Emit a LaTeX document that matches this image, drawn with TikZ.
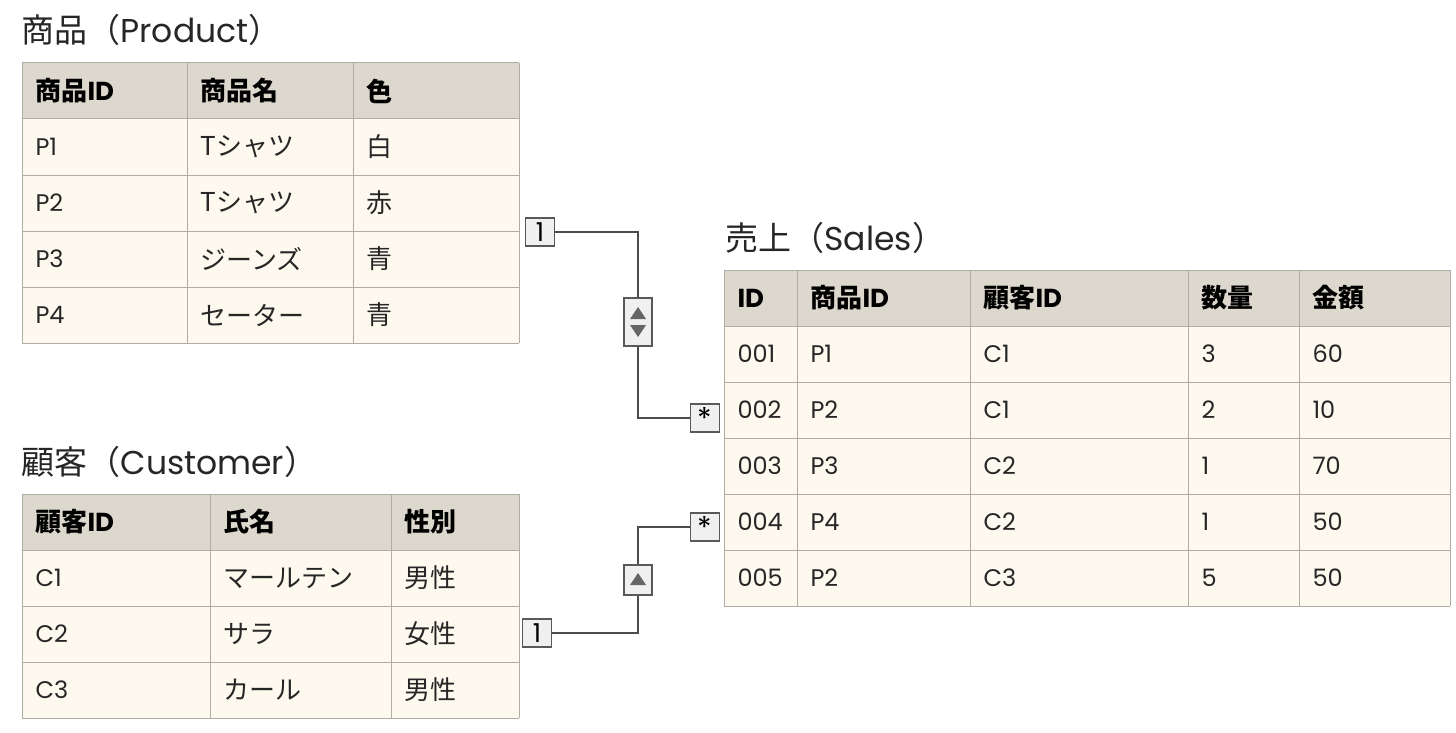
\documentclass[tikz,border=0pt]{standalone}
\usepackage{fontspec}
\usetikzlibrary{calc}
\setmainfont{Poppins}
\newfontfamily\jpf{Noto Sans CJK JP}
\newcommand{\J}[1]{{\jpf\fontsize{26}{28}\selectfont #1}}
\begin{document}
\begin{tikzpicture}[x=1pt,y=-1pt,
  txt/.style={anchor=west,font=\fontsize{24}{26}\selectfont,text=black!85},
  htxt/.style={anchor=west,font=\fontsize{26}{28}\selectfont\bfseries,text=black},
  ttl/.style={anchor=west,font=\fontsize{33}{36}\selectfont,text=black!85},
  mk/.style={draw=gray!70!black,fill=gray!12,line width=1.2pt,minimum width=29pt,minimum height=24pt,inner sep=0pt,font=\fontsize{22}{22}\selectfont},
  ln/.style={draw=black!70,line width=2.2pt},
  tri/.style={fill=black!60,draw=none}]
\definecolor{hdrc}{HTML}{DDD8CE}
\definecolor{bodc}{HTML}{FDF9EE}
\definecolor{gridc}{HTML}{B0ACA6}
\useasboundingbox (0,0) rectangle (1456,733);
% ---------- Product
\node[ttl] (tp) at (18,30) {{\jpf 商品（}Product{\jpf ）}};
\foreach \xa/\xb in {22/187,187/353,353/519}{
  \fill[hdrc] (\xa,63) rectangle (\xb,119);
  \fill[bodc] (\xa,119) rectangle (\xb,343);}
\foreach \y in {63,119,175,231,287,343} \draw[gridc,line width=1pt] (22,\y)--(519,\y);
\foreach \x in {22,187,353,519} \draw[gridc,line width=1pt] (\x,63)--(\x,343);
\node[htxt] (p00) at (32,91) {{\jpf 商品}ID};
\node[htxt] (p01) at (197,91) {{\jpf 商品名}};
\node[htxt] (p02) at (363,91) {{\jpf 色}};
\foreach \r/\a/\b/\c in {1/P1/Tシャツ/白,2/P2/Tシャツ/赤,3/P3/ジーンズ/青,4/P4/セーター/青}{
  \node[txt] (pa\r) at (32,91+56*\r) {\a};
  \node[txt] (pb\r) at (197,91+56*\r) {\J{\b}};
  \node[txt] (pc\r) at (363,91+56*\r) {\J{\c}};}
% ---------- Customer
\node[ttl] (tc) at (18,462) {{\jpf 顧客（}Customer{\jpf ）}};
\foreach \xa/\xb in {22/210,210/391,391/519}{
  \fill[hdrc] (\xa,494) rectangle (\xb,550);
  \fill[bodc] (\xa,550) rectangle (\xb,718);}
\foreach \y in {494,550,606,662,718} \draw[gridc,line width=1pt] (22,\y)--(519,\y);
\foreach \x in {22,210,391,519} \draw[gridc,line width=1pt] (\x,494)--(\x,718);
\node[htxt] (c00) at (32,522) {{\jpf 顧客}ID};
\node[htxt] (c01) at (220,522) {{\jpf 氏名}};
\node[htxt] (c02) at (401,522) {{\jpf 性別}};
\foreach \r/\a/\b/\c in {1/C1/マールテン/男性,2/C2/サラ/女性,3/C3/カール/男性}{
  \node[txt] (ca\r) at (32,522+56*\r) {\a};
  \node[txt] (cb\r) at (220,522+56*\r) {\J{\b}};
  \node[txt] (cc\r) at (401,522+56*\r) {\J{\c}};}
% ---------- Sales
\node[ttl] (ts) at (722,238) {{\jpf 売上（}Sales{\jpf ）}};
\foreach \xa/\xb in {724/797,797/970,970/1188,1188/1299,1299/1450}{
  \fill[hdrc] (\xa,270) rectangle (\xb,326);
  \fill[bodc] (\xa,326) rectangle (\xb,606);}
\foreach \y in {270,326,382,438,494,550,606} \draw[gridc,line width=1pt] (724,\y)--(1450,\y);
\foreach \x in {724,797,970,1188,1299,1450} \draw[gridc,line width=1pt] (\x,270)--(\x,606);
\node[htxt] (s00) at (734,298) {ID};
\node[htxt] (s01) at (807,298) {{\jpf 商品}ID};
\node[htxt] (s02) at (980,298) {{\jpf 顧客}ID};
\node[htxt] (s03) at (1198,298) {{\jpf 数量}};
\node[htxt] (s04) at (1309,298) {{\jpf 金額}};
\foreach \r/\a/\b/\c/\d/\e in {1/001/P1/C1/3/60,2/002/P2/C1/2/10,3/003/P3/C2/1/70,4/004/P4/C2/1/50,5/005/P2/C3/5/50}{
  \node[txt] (sa\r) at (734,298+56*\r) {\a};
  \node[txt] (sb\r) at (807,298+56*\r) {\b};
  \node[txt] (sc\r) at (980,298+56*\r) {\c};
  \node[txt] (sd\r) at (1198,298+56*\r) {\d};
  \node[txt] (se\r) at (1309,298+56*\r) {\e};}
% ---------- connectors
\node[mk,minimum height=28pt,font=\fontsize{26}{26}\selectfont] (m1) at (540,232) {1};
\node[mk,minimum height=28pt,font=\fontsize{30}{30}\selectfont] (m2) at (705,418) {*};
\node[mk,minimum width=28pt,minimum height=48pt] (d1) at (638,322) {};
\draw[ln] (m1.east) -| (d1.north);
\draw[ln] (d1.south) |- (m2.west);
\fill[tri] ($(d1.center)+(-8,-3)$) -- ++(16,0) -- ++(-8,-12) -- cycle;
\fill[tri] ($(d1.center)+(-8,3)$) -- ++(16,0) -- ++(-8,12) -- cycle;
\node[mk,minimum height=28pt,font=\fontsize{26}{26}\selectfont] (m3) at (537,633) {1};
\node[mk,minimum height=28pt,font=\fontsize{30}{30}\selectfont] (m4) at (705,527) {*};
\node[mk,minimum width=28pt,minimum height=30pt] (d2) at (638,580) {};
\draw[ln] (m3.east) -| (d2.south);
\draw[ln] (d2.north) |- (m4.west);
\fill[tri] ($(d2.center)+(-8,5)$) -- ++(16,0) -- ++(-8,-12) -- cycle;
\end{tikzpicture}
\end{document}
